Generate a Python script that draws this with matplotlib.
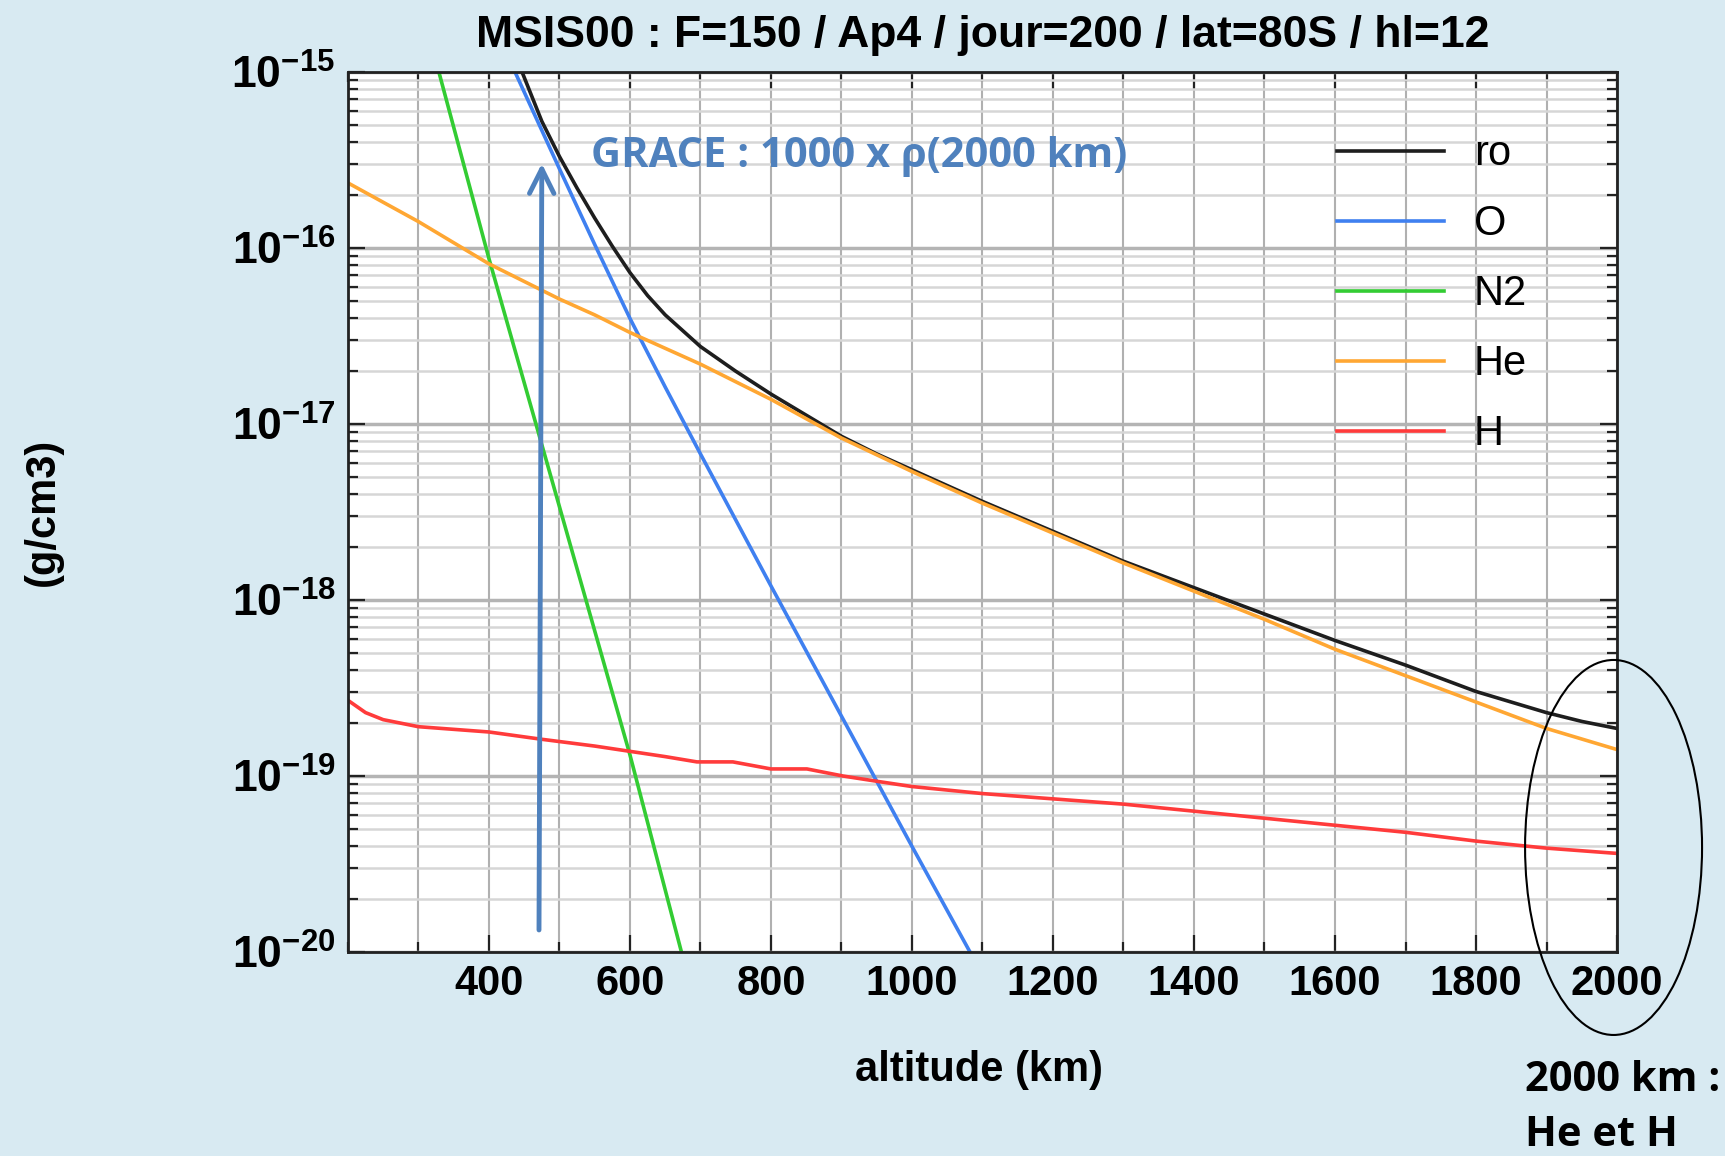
import numpy as np
import matplotlib.pyplot as plt
from matplotlib.patches import Ellipse
from matplotlib.ticker import FixedLocator, MultipleLocator, NullFormatter

plt.rcParams['font.family'] = ['Liberation Sans', 'DejaVu Sans']
plt.rcParams['mathtext.fontset'] = 'custom'
plt.rcParams['mathtext.rm'] = 'Liberation Sans'
plt.rcParams['mathtext.bf'] = 'Liberation Sans:bold'
plt.rcParams['mathtext.default'] = 'bf'

# MSIS00 densities, altitude in km and log10 of density in g/cm3
alt_ro = [447, 475, 500, 525, 550, 575, 600, 625, 650, 675, 700, 750, 800, 850, 900, 950,
          1000, 1100, 1200, 1300, 1400, 1500, 1600, 1700, 1800, 1900, 1950, 2000]
log_ro = [-15.0, -15.28, -15.48, -15.66, -15.83, -15.99, -16.14, -16.27, -16.38, -16.47,
          -16.56, -16.70, -16.83, -16.95, -17.07, -17.17, -17.26, -17.44, -17.61, -17.78,
          -17.93, -18.08, -18.23, -18.37, -18.52, -18.64, -18.69, -18.73]

alt_o = [437, 500, 550, 600, 650, 700, 800, 900, 1000, 1085]
log_o = [-15.0, -15.55, -15.98, -16.40, -16.79, -17.17, -17.92, -18.66, -19.40, -20.02]

alt_n2 = [329, 400, 500, 600, 673]
log_n2 = [-15.0, -16.06, -17.47, -18.88, -20.0]

alt_he = [200, 250, 300, 350, 400, 450, 500, 550, 600, 650, 700, 750, 800, 900, 1000,
          1100, 1200, 1300, 1400, 1500, 1600, 1700, 1800, 1900, 2000]
log_he = [-15.63, -15.74, -15.85, -15.97, -16.09, -16.19, -16.29, -16.38, -16.48, -16.57,
          -16.66, -16.76, -16.86, -17.08, -17.27, -17.45, -17.62, -17.79, -17.95, -18.11,
          -18.28, -18.43, -18.58, -18.73, -18.85]

alt_h = [200, 225, 250, 300, 400, 472, 550, 600, 650, 695, 746, 800, 851, 902, 950, 1000,
         1100, 1200, 1300, 1400, 1500, 1600, 1700, 1800, 1900, 2000]
log_h = [-18.57, -18.64, -18.68, -18.72, -18.75, -18.79, -18.83, -18.86, -18.89, -18.92,
         -18.92, -18.96, -18.96, -19.00, -19.03, -19.06, -19.10, -19.13, -19.16, -19.20,
         -19.24, -19.28, -19.32, -19.37, -19.41, -19.44]

series = [
    ('ro', alt_ro, log_ro, '#1e1e1e'),
    ('O', alt_o, log_o, '#3f80f0'),
    ('N2', alt_n2, log_n2, '#33cc33'),
    ('He', alt_he, log_he, '#ffa733'),
    ('H', alt_h, log_h, '#ff3b3b'),
]

x_ticks = [400, 600, 800, 1000, 1200, 1400, 1600, 1800, 2000]
y_exps = [-20, -19, -18, -17, -16, -15]

title = 'MSIS00 : F=150 / Ap4 / jour=200 / lat=80S / hl=12'
grace_text = 'GRACE : 1000 x \u03c1(2000 km)'

BG = '#d8eaf2'
NOTE_BLUE = '#4f81bd'
NOTE_FONT = ['Open Sans', 'DejaVu Sans']

fig = plt.figure(figsize=(17.25, 11.56), dpi=100, facecolor=BG)
ax = fig.add_axes([0.2017, 0.1765, 0.7357, 0.7612])
ax.set_facecolor('white')

for name, alt, logv, col in series:
    ax.plot(alt, 10.0 ** np.array(logv), color=col, lw=2.6, label=name)

ax.set_yscale('log')
ax.set_xlim(200, 2000)
ax.set_ylim(1e-20, 1e-15)

ax.xaxis.set_major_locator(FixedLocator(x_ticks))
ax.xaxis.set_minor_locator(MultipleLocator(100))
ax.set_yticks([10.0 ** e for e in y_exps])
ax.set_yticklabels([r'$10^{%d}$' % e for e in y_exps])
ax.yaxis.set_minor_formatter(NullFormatter())

ax.grid(which='major', axis='y', color='#b4b4b4', lw=2.5)
ax.grid(which='minor', axis='y', color='#d6d6d6', lw=1.8)
ax.grid(which='both', axis='x', color='#b0b0b0', lw=1.5)
ax.set_axisbelow(True)

ax.tick_params(which='both', direction='in', top=True, right=True, width=1.6, color='#222222')
ax.tick_params(which='major', length=12, pad=9)
ax.tick_params(which='minor', length=7)
ax.tick_params(axis='x', labelsize=30)
ax.tick_params(axis='y', labelsize=32)
for lab in ax.get_xticklabels():
    lab.set_fontweight('bold')
for sp in ax.spines.values():
    sp.set_linewidth(2)
    sp.set_color('#222222')

ax.set_title(title, fontsize=32, fontweight='bold', pad=18)
ax.set_xlabel('altitude (km)', fontsize=30, fontweight='bold')
ax.xaxis.set_label_coords(0.497, -0.111)
ax.set_ylabel('(g/cm3)', fontsize=30, fontweight='bold')
ax.yaxis.set_label_coords(-0.2246, 0.5)

ax.legend(loc='upper left', bbox_to_anchor=(0.779, 0.929), frameon=False, fontsize=30,
          handlelength=2.57, handletextpad=0.72, labelspacing=0.72, borderpad=0,
          borderaxespad=0)

# GRACE annotation with arrow
ax.annotate('', xy=(475, 10 ** -15.52), xytext=(471, 10 ** -19.875),
            arrowprops=dict(arrowstyle='->', color=NOTE_BLUE, lw=3.5,
                            shrinkA=0, shrinkB=0, mutation_scale=44))
fig.text(0.3426, 0.8642, grace_text, fontsize=30, fontweight='bold',
         family=NOTE_FONT, color=NOTE_BLUE, ha='left', va='center')

# ellipse around 2000 km and its note
fig.add_artist(Ellipse((0.9354, 0.2669), 0.1026, 0.3244, transform=fig.transFigure,
                       fill=False, ec='black', lw=1.5))
fig.text(0.884, 0.0562, '2000 km :', fontsize=30, fontweight='bold',
         family=NOTE_FONT, ha='left', va='baseline')
fig.text(0.884, 0.0087, 'He et H', fontsize=30, fontweight='bold',
         family=NOTE_FONT, ha='left', va='baseline')

fig.savefig('out.png', dpi=100, facecolor=BG)
